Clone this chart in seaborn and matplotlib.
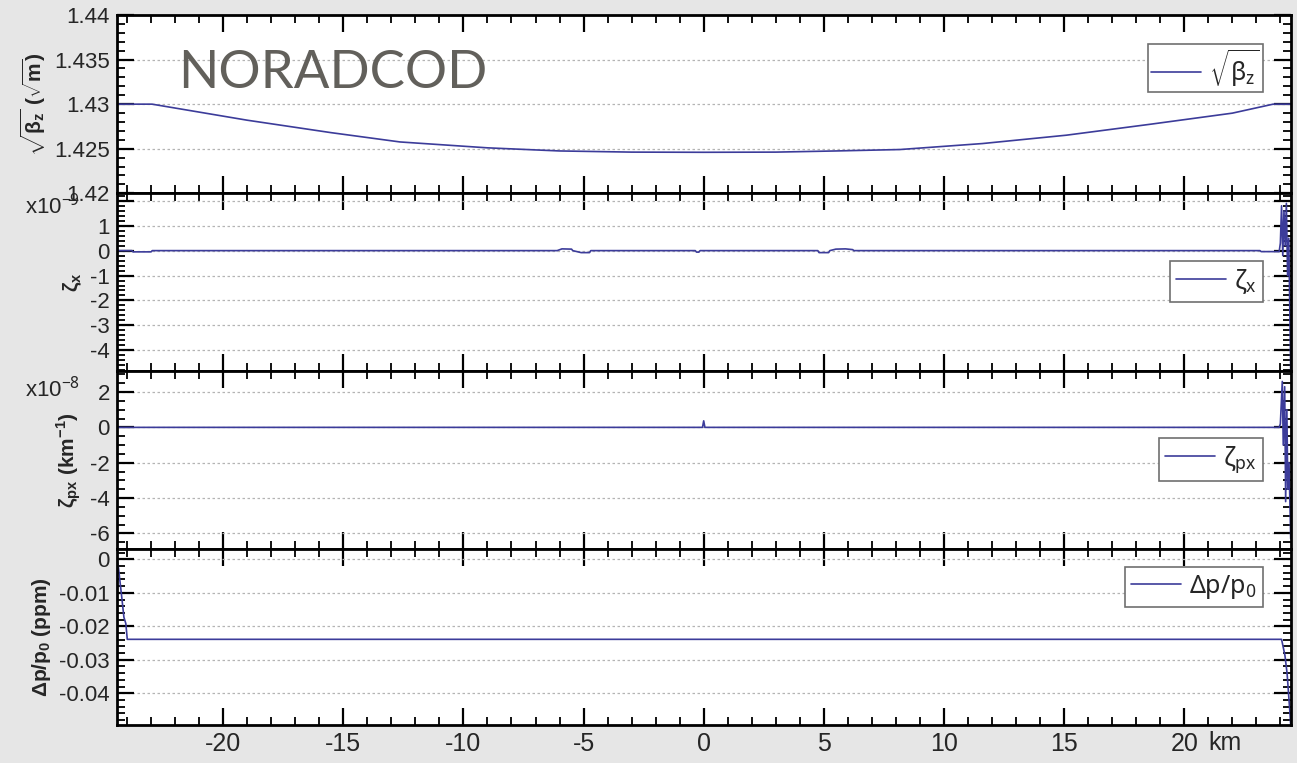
import numpy as np
import pandas as pd
import seaborn as sns
import matplotlib.pyplot as plt
from matplotlib.ticker import FixedLocator, MultipleLocator
import matplotlib.transforms as mtransforms

# --- data (km along the line) ---
beta_km = [-24.43, -22.96, -19.0, -15.5, -12.64, -9.0, -6.0, -3.0, 0.0, 3.0, 5.5,
           8.17, 11.6, 15.1, 18.6, 22.0, 23.7, 24.43]
beta_val = [1.4300, 1.4300, 1.4282, 1.4268, 1.42576, 1.4251, 1.42475, 1.42462, 1.42460,
            1.42462, 1.42475, 1.42491, 1.42558, 1.42652, 1.42775, 1.42899, 1.4300, 1.4300]

# zeta_x, units of 1e-9
zx_km = [-24.43, -23.8, -23.75, -23.0, -22.95, -6.1, -5.9, -5.5, -5.45, -5.1, -4.75, -4.7,
         -0.35, -0.3, -0.2, -0.15, 4.75, 4.8, 5.2, 5.25, 5.5, 5.9, 6.2, 6.25,
         23.15, 23.2, 23.95, 24.0, 24.05, 24.1, 24.15, 24.2, 24.25, 24.3, 24.35, 24.43]
zx_val = [0, 0, -0.05, -0.05, 0, 0, 0.07, 0.06, 0, -0.08, -0.08, 0,
          0, -0.06, -0.06, 0, 0, -0.08, -0.08, 0, 0.06, 0.07, 0.04, 0,
          0, -0.04, -0.04, 0.3, 1.8, -0.2, 1.6, 0.2, 1.9, -1.0, 0.5, -4.83]

# zeta_px, units of 1e-8 km^-1
zpx_km = [-24.43, -0.05, 0.0, 0.05, 23.95, 24.0, 24.08, 24.12, 24.18, 24.22, 24.27, 24.31, 24.36, 24.43]
zpx_val = [0, 0, 0.37, 0, 0, 0.2, 2.6, -1.0, 2.3, -4.2, 1.0, -3.5, -2.0, -6.3]

# delta p / p0, ppm
dp_km = [-24.43, -24.36, -24.22, -24.13, -24.05, -23.99, 24.05, 24.19, 24.28, 24.39, 24.43]
dp_val = [0.0, -0.0023, -0.0113, -0.0173, -0.0192, -0.0239, -0.0239, -0.0287, -0.0341, -0.045, -0.0495]

x_ticks = [-20, -15, -10, -5, 0, 5, 10, 15, 20]
x_labels = ['-20', '-15', '-10', '-5', '0', '5', '10', '15', '20']

sns.set_theme(style='ticks')
plt.rcParams['font.family'] = ['Liberation Sans', 'DejaVu Sans']
plt.rcParams['mathtext.fontset'] = 'custom'
plt.rcParams['mathtext.rm'] = 'Noto Sans'
plt.rcParams['mathtext.it'] = 'Noto Sans:italic'
plt.rcParams['mathtext.bf'] = 'Liberation Sans:bold'

line_col = '#3c3c9a'
fig = plt.figure(figsize=(12.97, 7.63), dpi=100, facecolor='#e6e6e6')

# panel edges in pixels (from top)
edges = [15, 193.3, 371, 549.3, 725]
left = 116.7 / 1297
width = (1290.7 - 116.7) / 1297

panels = [
    dict(x=beta_km, y=beta_val, ylim=(1.42, 1.44), yt=[1.42, 1.425, 1.43, 1.435, 1.44],
         ytl=['1.42', '1.425', '1.43', '1.435', '1.44'], minor=0.001,
         ylabel=r'$\mathbf{\sqrt{\beta_z}}$ ($\mathbf{\sqrt{m}}$)',
         leg=r'$\mathrm{\sqrt{\beta_z}}$', legy=0.835, bpad=0.12),
    dict(x=zx_km, y=zx_val, ylim=(-4.83, 2.3), yt=[-4, -3, -2, -1, 0, 1, 2],
         ytl=['-4', '-3', '-2', '-1', '0', '1', ''], minor=0.2,
         ylabel=r'$\mathbf{\zeta_x}$', leg=r'$\mathrm{\zeta_x}$', legy=0.62, bpad=0.25),
    dict(x=zpx_km, y=zpx_val, ylim=(-6.9, 3.19), yt=[-6, -4, -2, 0, 2],
         ytl=['-6', '-4', '-2', '0', '2'], minor=0.5,
         ylabel=r'$\mathbf{\zeta_{px}}$ (km$^{\mathbf{-1}}$)', leg=r'$\mathrm{\zeta_{px}}$',
         legy=0.625, bpad=0.25),
    dict(x=dp_km, y=dp_val, ylim=(-0.0495, 0.003), yt=[-0.04, -0.03, -0.02, -0.01, 0],
         ytl=['-0.04', '-0.03', '-0.02', '-0.01', '0'], minor=0.002,
         ylabel=r'$\mathbf{\Delta p/p_0}$ (ppm)', leg=r'$\mathrm{\Delta p/p_0}$', legy=0.9,
         bpad=0.25),
]

axes = []
for i, p in enumerate(panels):
    top, bot = edges[i], edges[i + 1]
    ax = fig.add_axes([left, 1 - bot / 763, width, (bot - top) / 763])
    ax.set_facecolor('white')
    sns.lineplot(x=p['x'], y=p['y'], ax=ax, color=line_col, lw=1.2,
                 estimator=None, sort=False, label=p['leg'])
    ax.set_xlim(-24.43, 24.43)
    ax.set_ylim(*p['ylim'])
    ax.yaxis.set_major_locator(FixedLocator(p['yt']))
    ax.set_yticklabels(p['ytl'])
    ax.yaxis.set_minor_locator(MultipleLocator(p['minor']))
    ax.xaxis.set_major_locator(FixedLocator(x_ticks))
    ax.xaxis.set_minor_locator(MultipleLocator(1))
    ax.tick_params(which='both', direction='in', top=True, right=True, color='black')
    ax.tick_params(which='major', length=12, width=1.6, labelsize=16, pad=5)
    ax.tick_params(which='minor', length=6, width=1.3)
    ax.tick_params(axis='x', labelsize=18)
    for s in ax.spines.values():
        s.set_linewidth(2)
        s.set_color('black')
    ax.set_axisbelow(True)
    ax.yaxis.grid(True, ls=(0, (2, 2)), color='#b4b4b4', lw=0.9)
    ax.xaxis.grid(False)
    ax.set_ylabel(p['ylabel'], fontsize=15, fontweight='bold', labelpad=4)
    if i < 3:
        ax.set_xticklabels([])
    else:
        ax.set_xticklabels(x_labels)
    leg = ax.legend(loc='upper right', bbox_to_anchor=(0.976, p['legy']), fontsize=18,
                    frameon=True, fancybox=False, framealpha=1, edgecolor='#707070',
                    handlelength=2.0, handletextpad=0.3, borderpad=p['bpad'], borderaxespad=0)
    leg.get_frame().set_linewidth(1.2)
    axes.append(ax)

ax1, ax2, ax3, ax4 = axes
ax1.text(0.052, 0.59, 'NORADCOD', transform=ax1.transAxes, fontsize=38,
         family='Lato', color='#62605b', va='baseline')
ax2.text(-0.031, 0.925, r'x10$^{-9}$', transform=ax2.transAxes, fontsize=16,
         ha='right', va='center')
ax3.text(-0.031, 0.893, r'x10$^{-8}$', transform=ax3.transAxes, fontsize=16,
         ha='right', va='center')
trans = mtransforms.blended_transform_factory(ax4.transData, ax4.transAxes)
ax4.text(21.0, -0.1, 'km', transform=trans, fontsize=18, ha='left', va='center')

fig.savefig('out.png', dpi=100, facecolor=fig.get_facecolor())
